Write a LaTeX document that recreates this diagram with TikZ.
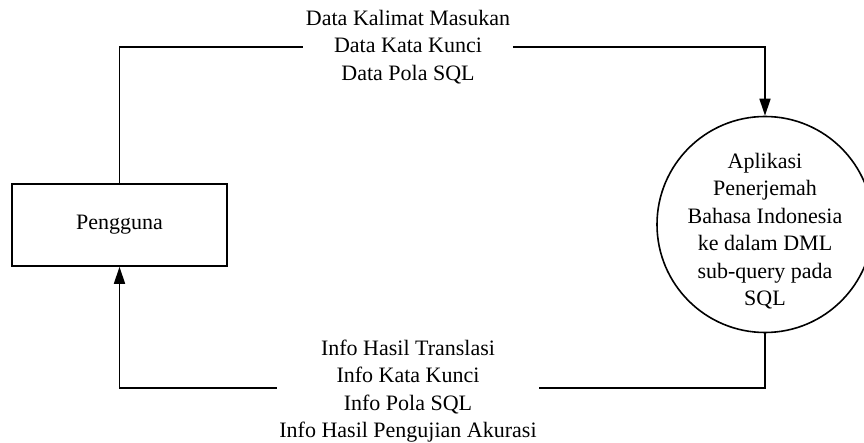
\documentclass[tikz,border=0pt]{standalone}
\usepackage{fontspec}
\setmainfont{Liberation Serif}
\usepackage{tikz}
\usetikzlibrary{arrows.meta}

\begin{document}
\begin{tikzpicture}[x=1pt,y=-1pt,line width=1.6pt,
  >={Triangle[length=17pt,width=11pt]},
  font=\fontsize{22}{27.5}\selectfont,
  entitas/.style={draw,minimum width=215pt,minimum height=82pt,inner sep=0pt},
  proses/.style={draw,circle,minimum size=216pt,inner sep=0pt,align=center},
  aliran/.style={fill=white,align=center,inner xsep=2pt,inner ysep=0pt}]
 \useasboundingbox (0,0) rectangle (864,443);
 \node[entitas] (pengguna) at (119.5,225) {Pengguna};
 \node[proses] (aplikasi) at (765,224.5) {};
 \node[align=center] (teks) at (765,231) {Aplikasi\\Penerjemah\\Bahasa Indonesia\\ke dalam DML\\sub-query pada\\SQL};
 \node[aliran] (data) at (408,47) {Data Kalimat Masukan\\Data Kata Kunci\\Data Pola SQL};
 \node[aliran] (info) at (408,391) {Info Hasil Translasi\\Info Kata Kunci\\Info Pola SQL\\Info Hasil Pengujian Akurasi};

 % aliran data
 \draw (pengguna.north) |- (data.west);
 \draw[->] (data.east) -| (aplikasi.north);
 \draw (aplikasi.south) |- ([yshift=3pt]info.east);
 \draw[->] ([yshift=3pt]info.west) -| (pengguna.south);
\end{tikzpicture}
\end{document}
